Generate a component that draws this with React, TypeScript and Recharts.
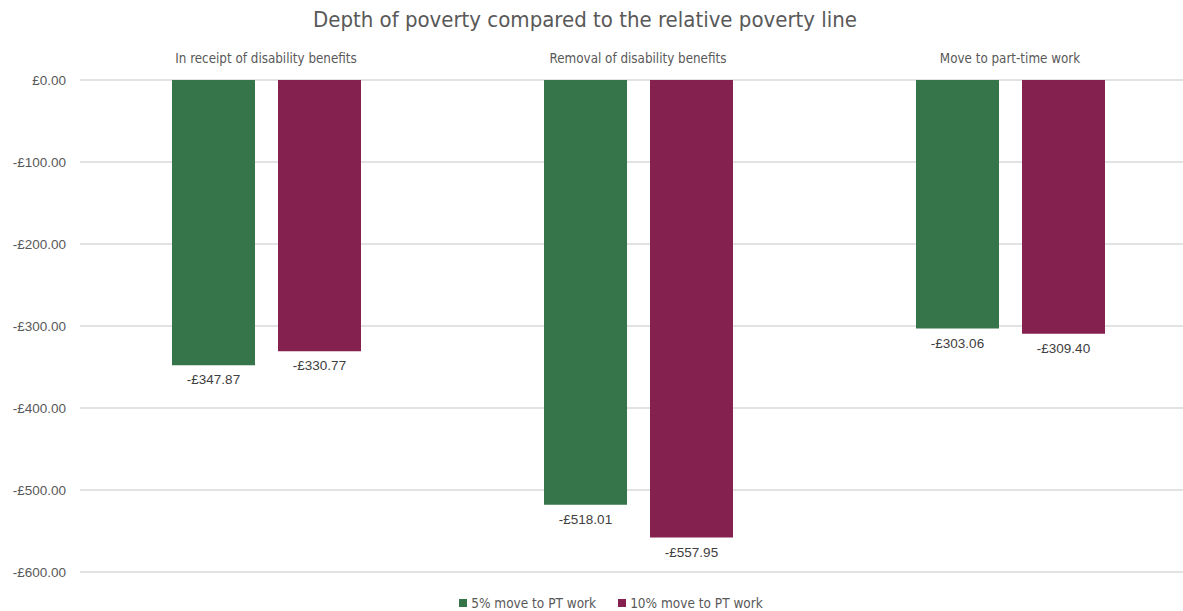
import {
  BarChart,
  Bar,
  XAxis,
  YAxis,
  CartesianGrid,
  Legend,
  LabelList,
} from "recharts";

const scenarios = [
  "In receipt of disability benefits",
  "Removal of disability benefits",
  "Move to part-time work",
];
const seriesNames = ["5% move to PT work", "10% move to PT work"];
const fivePct = [-347.87, -518.01, -303.06];
const tenPct = [-330.77, -557.95, -309.4];
const yTicks = [0, -100, -200, -300, -400, -500, -600];

const GREEN = "#36744a";
const PLUM = "#85214f";
const GREY = "#595959";
const NARROW = '"Liberation Sans Narrow", "DejaVu Sans Condensed", Arial, sans-serif';
const REGULAR = '"Liberation Sans", Arial, sans-serif';

const data = scenarios.map((name, i) => ({
  name,
  five: fivePct[i],
  ten: tenPct[i],
}));

const money = (v: number) =>
  v < 0 ? `-£${Math.abs(v).toFixed(2)}` : `£${v.toFixed(2)}`;

// value label sits under the end of the (downward) bar
const BarValueLabel = (props: any) => {
  const { x, y, width, height, value } = props;
  const bottom = Math.max(y, y + height);
  return (
    <text
      x={x + width / 2}
      y={bottom + 19}
      textAnchor="middle"
      fill="#404040"
      fontSize={13.5}
      fontFamily={REGULAR}
    >
      {money(value)}
    </text>
  );
};

const LegendRow = () => {
  const colors = [GREEN, PLUM];
  return (
    <div
      style={{
        display: "flex",
        justifyContent: "center",
        gap: 22,
        fontFamily: NARROW,
        fontSize: 13.5,
        lineHeight: "18px",
        color: GREY,
      }}
    >
      {seriesNames.map((n, i) => (
        <span key={n} style={{ display: "flex", alignItems: "center" }}>
          <span
            style={{
              width: 8,
              height: 8,
              background: colors[i],
              marginRight: 4,
              display: "inline-block",
            }}
          />
          {n}
        </span>
      ))}
    </div>
  );
};

const App = () => {
  return (
    <div
      style={{
        position: "fixed",
        top: 0,
        left: 0,
        width: 1183,
        height: 611,
        overflow: "hidden",
        background: "#fff",
      }}
    >
      <div
        style={{
          position: "absolute",
          top: 7,
          left: 0,
          width: 1170,
          textAlign: "center",
          fontFamily: NARROW,
          fontSize: 22,
          color: GREY,
          zIndex: 2,
        }}
      >
        Depth of poverty compared to the relative poverty line
      </div>
      <BarChart
        width={1220}
        height={611}
        data={data}
        margin={{ top: 50, right: 24, left: 0, bottom: 39 }}
        barGap={23}
        barCategoryGap={92}
      >
        <CartesianGrid vertical={false} stroke="#d9d9d9" strokeWidth={1.3} />
        <XAxis
          dataKey="name"
          orientation="top"
          height={30}
          axisLine={false}
          tickLine={false}
          tickSize={0}
          tickMargin={17}
          interval={0}
          tick={{ fill: GREY, fontSize: 13.3, fontFamily: NARROW }}
        />
        <YAxis
          domain={[-600, 0]}
          ticks={yTicks}
          width={80}
          axisLine={false}
          tickLine={false}
          tickSize={0}
          tickMargin={14}
          tickFormatter={money}
          tick={{ fill: GREY, fontSize: 13.5, fontFamily: REGULAR }}
        />
        <Legend
          verticalAlign="middle"
          align="center"
          content={<LegendRow />}
          wrapperStyle={{ top: 594, left: 0, width: 1222, height: 18 }}
        />
        <Bar
          dataKey="five"
          name={seriesNames[0]}
          fill={GREEN}
          barSize={83}
          isAnimationActive={false}
        >
          <LabelList dataKey="five" content={<BarValueLabel />} />
        </Bar>
        <Bar
          dataKey="ten"
          name={seriesNames[1]}
          fill={PLUM}
          barSize={83}
          isAnimationActive={false}
        >
          <LabelList dataKey="ten" content={<BarValueLabel />} />
        </Bar>
      </BarChart>
    </div>
  );
};

export default App;
